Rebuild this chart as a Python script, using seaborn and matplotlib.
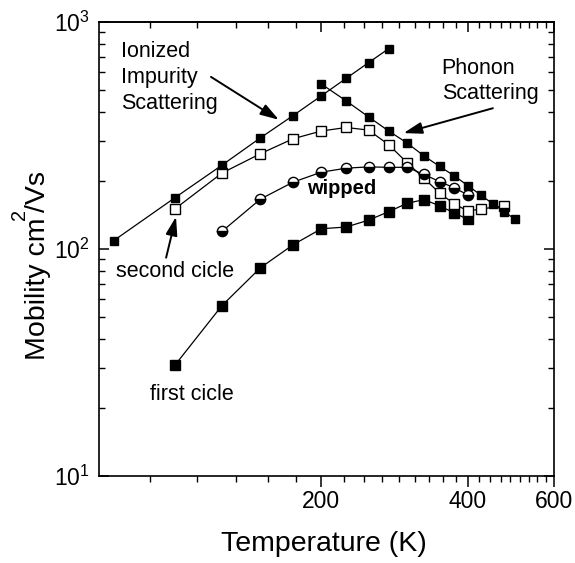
import numpy as np
import pandas as pd
import matplotlib
matplotlib.use("Agg")
import matplotlib.pyplot as plt
import seaborn as sns
from matplotlib.ticker import FixedLocator, FixedFormatter, LogLocator, NullFormatter

# ---- data ----
imp_T = [75, 100, 125, 150, 175, 200, 225, 250, 275]
imp_mu = [109, 168, 234, 309, 387, 473, 565, 662, 763]

ph_T = [200, 225, 250, 275, 300, 325, 350, 375, 400, 425, 450, 475, 500]
ph_mu = [533, 449, 382, 331, 293, 257, 231, 210, 190, 173, 158, 146, 135]

c2_T = [100, 125, 150, 175, 200, 225, 250, 275, 300, 325, 350, 375, 400, 425, 475]
c2_mu = [150, 216, 263, 306, 331, 343, 334, 288, 240, 205, 176, 158, 147, 150, 155]

w_T = [125, 150, 175, 200, 225, 250, 275, 300, 325, 350, 375, 400]
w_mu = [119.5, 166, 197, 218, 227, 230, 229, 229, 213, 198, 186, 173]

c1_T = [100, 125, 150, 175, 200, 225, 250, 275, 300, 325, 350, 375, 400]
c1_mu = [30.7, 56.3, 82.7, 104.4, 122.8, 125, 134, 146, 159, 165, 155, 144, 135]

x_major = [200, 400, 600]
x_major_labels = ["200", "400", "600"]
x_minor = [k * 200 / 9 for k in range(4, 27) if k not in (9, 18)]

# ---- style ----
sns.set_style("ticks")
plt.rcParams["font.family"] = ["Liberation Sans", "DejaVu Sans"]
plt.rcParams["mathtext.fontset"] = "custom"
plt.rcParams["mathtext.rm"] = "Liberation Sans"
plt.rcParams["mathtext.it"] = "Liberation Sans:italic"
plt.rcParams["mathtext.bf"] = "Liberation Sans:bold"
for k in ["text.color", "axes.labelcolor", "xtick.color", "ytick.color", "axes.edgecolor"]:
    plt.rcParams[k] = "black"

W, H = 575, 563
fig = plt.figure(figsize=(W / 100, H / 100), dpi=100)
ax = fig.add_axes([99.3 / W, 1 - 476 / H, (553.7 - 99.3) / W, (476 - 22) / H])
ax.set_xscale("log")
ax.set_yscale("log")


def draw(T, mu, **kw):
    df = pd.DataFrame({"T": T, "mu": mu})
    sns.lineplot(data=df, x="T", y="mu", ax=ax, estimator=None, sort=False,
                 color="black", linewidth=0.9, markeredgecolor="black",
                 markeredgewidth=1.0, legend=False, **kw)


draw(c1_T, c1_mu, marker="s", markersize=7.6, markerfacecolor="black")
draw(c2_T, c2_mu, marker="s", markersize=7.0, markerfacecolor="white")
draw(w_T, w_mu, marker="o", markersize=7.4, fillstyle="bottom",
     markerfacecolor="black", markerfacecoloralt="white")
draw(imp_T, imp_mu, marker="s", markersize=5.2, markerfacecolor="black")
draw(ph_T, ph_mu, marker="s", markersize=5.2, markerfacecolor="black")

ax.set_xlim(70, 600)
ax.set_ylim(10, 1000)

# x ticks: bottom outward with labels
ax.xaxis.set_major_locator(FixedLocator(x_major))
ax.xaxis.set_major_formatter(FixedFormatter(x_major_labels))
ax.xaxis.set_minor_locator(FixedLocator(x_minor))
ax.xaxis.set_minor_formatter(NullFormatter())
ax.tick_params(axis="x", which="major", direction="out", length=8, width=1.1,
               labelsize=16.5, pad=2, colors="black")
ax.tick_params(axis="x", which="minor", direction="out", length=4.5, width=1.0)

# y ticks: left & right inward
ax.yaxis.set_major_locator(LogLocator(base=10, numticks=10))
ax.yaxis.set_minor_locator(LogLocator(base=10, subs=np.arange(2, 10), numticks=20))
ax.yaxis.set_minor_formatter(NullFormatter())
ax.tick_params(axis="y", which="both", direction="in", right=True, left=True,
               labelsize=16.5, pad=7, colors="black")
ax.tick_params(axis="y", which="major", length=7, width=1.1)
ax.tick_params(axis="y", which="minor", length=4.5, width=1.0)

# top ticks inward (secondary axis mirrors the x scale)
sec = ax.secondary_xaxis("top")
sec.xaxis.set_major_locator(FixedLocator(x_major))
sec.xaxis.set_minor_locator(FixedLocator(x_minor))
sec.xaxis.set_major_formatter(NullFormatter())
sec.xaxis.set_minor_formatter(NullFormatter())
sec.tick_params(axis="x", which="major", direction="in", length=7, width=1.1)
sec.tick_params(axis="x", which="minor", direction="in", length=4.5, width=1.0)

for s in list(ax.spines.values()) + list(sec.spines.values()):
    s.set_color("black")
    s.set_linewidth(1.2)

ax.set_xlabel("")
ax.set_ylabel("")

# x axis title
fig.text(324 / W, 1 - 551 / H, "Temperature (K)", ha="center", va="baseline",
         fontsize=20.5)

# y axis title built from pieces: "Mobility cm" + raised "2" + "/Vs"
yl_size = 20.5
base_x, bottom_y = 45, 360
rot = dict(rotation=90, rotation_mode="anchor", ha="left", va="baseline",
           family=["Liberation Sans"])
t1 = fig.text(base_x / W, 1 - bottom_y / H, "Mobility cm", fontsize=yl_size, **rot)
fig.canvas.draw()
r = fig.canvas.get_renderer()
top1 = t1.get_window_extent(r).y1
sup_raise = yl_size * 100 / 72 * 0.72
t2 = fig.text((base_x - sup_raise) / W, (top1 - 2.5) / H, "2",
              fontsize=yl_size * 0.7, **rot)
fig.canvas.draw()
top2 = t2.get_window_extent(r).y1
t3 = fig.text(base_x / W, (top2 - 3) / H, "/Vs", fontsize=yl_size, **rot)


def txt(x, y, s, size=15.5, **kw):
    fig.text(x / W, 1 - y / H, s, ha="left", va="baseline", fontsize=size, **kw)


txt(121, 57, "Ionized")
txt(121, 83.3, "Impurity")
txt(121, 109, "Scattering")
txt(441.7, 73.5, "Phonon")
txt(441.7, 99.5, "Scattering")
txt(307.3, 194, "wipped", size=14.5, fontweight="bold")
txt(116, 277.3, "second cicle")
txt(150, 400.5, "first cicle")

arrow = dict(arrowstyle="-|>,head_length=0.7,head_width=0.22", color="black",
             lw=1.4, mutation_scale=16, shrinkA=0, shrinkB=0)
ax.annotate("", xy=(163.6, 371), xytext=(118.7, 573), arrowprops=arrow)
ax.annotate("", xy=(295, 324), xytext=(450, 417), arrowprops=arrow)
ax.annotate("", xy=(100.6, 138.7), xytext=(96, 91.6), arrowprops=arrow)

fig.savefig("out.png", dpi=100)
